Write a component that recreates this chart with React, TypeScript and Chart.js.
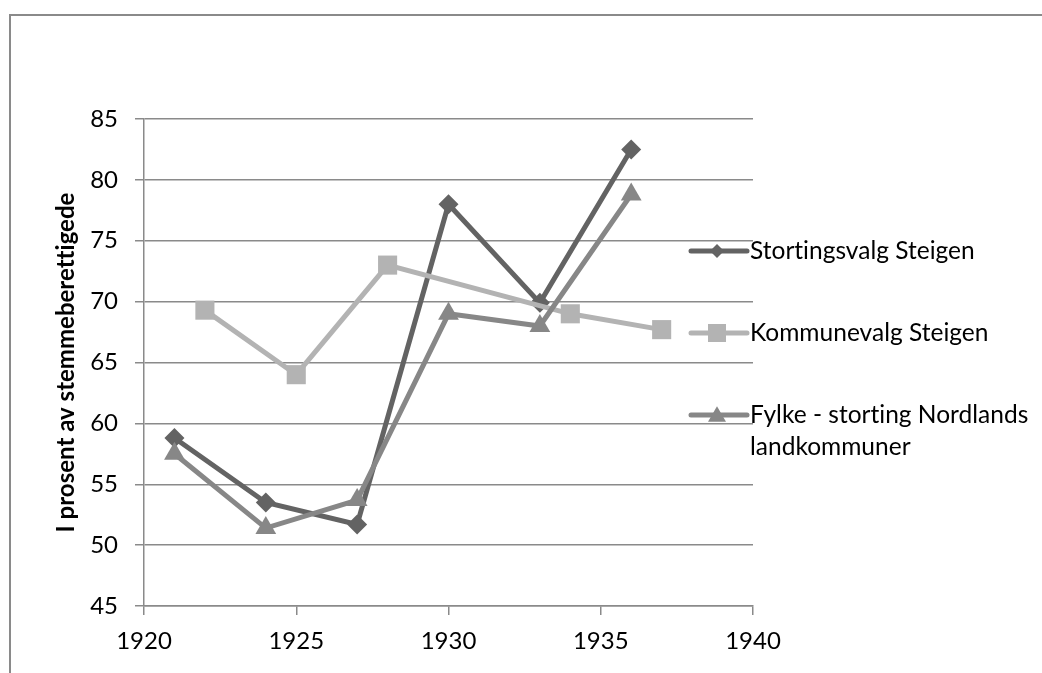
import React, { useEffect, useRef } from "react";
import { Chart, registerables } from "chart.js";

Chart.register(...registerables);

const seriesNames = [
  "Stortingsvalg Steigen",
  "Kommunevalg Steigen",
  "Fylke - storting Nordlands landkommuner",
];
const legendLines = [
  ["Stortingsvalg Steigen"],
  ["Kommunevalg Steigen"],
  ["Fylke - storting Nordlands", "landkommuner"],
];

const stortingYears = [1921, 1924, 1927, 1930, 1933, 1936];
const stortingValues = [58.8, 53.5, 51.7, 78.0, 69.9, 82.5];

const kommuneYears = [1922, 1925, 1928, 1934, 1937];
const kommuneValues = [69.3, 64.0, 73.0, 69.0, 67.7];

const fylkeYears = [1921, 1924, 1927, 1930, 1933, 1936];
const fylkeValues = [57.5, 51.4, 53.7, 69.0, 68.0, 78.8];

const xTicks = [1920, 1925, 1930, 1935, 1940];
const yTicks = [45, 50, 55, 60, 65, 70, 75, 80, 85];

const yTitle = "I prosent av stemmeberettigede";

const colors = ["#636363", "#b3b3b3", "#878787"];
const pointStyles = ["rectRot", "rect", "triangle"];
const pointRadii = [10, 13.5, 12];

const FONT = "Lato, 'Open Sans', sans-serif";

function toPoints(xs: number[], ys: number[]) {
  return xs.map((x, i) => ({ x, y: ys[i] }));
}

function drawMarker(ctx: CanvasRenderingContext2D, style: string, x: number, y: number, r: number) {
  ctx.beginPath();
  if (style === "rectRot") {
    ctx.moveTo(x, y - r);
    ctx.lineTo(x + r, y);
    ctx.lineTo(x, y + r);
    ctx.lineTo(x - r, y);
  } else if (style === "rect") {
    ctx.rect(x - r, y - r, 2 * r, 2 * r);
  } else {
    const h = r * 1.7;
    ctx.moveTo(x, y - h / 2 - 1);
    ctx.lineTo(x + r, y + h / 2 - 1);
    ctx.lineTo(x - r, y + h / 2 - 1);
  }
  ctx.closePath();
  ctx.fill();
}

const legendPlugin = {
  id: "customLegend",
  beforeDraw(chart: any) {
    const ctx = chart.ctx;
    try {
      (ctx as any).letterSpacing = "0.01px";
    } catch (e) {}
    ctx.save();
    ctx.fillStyle = "#ffffff";
    ctx.fillRect(0, 0, chart.width, chart.height);
    ctx.strokeStyle = "#8a8a8a";
    ctx.lineWidth = 2;
    ctx.beginPath();
    ctx.moveTo(10, chart.height);
    ctx.lineTo(10, 15);
    ctx.lineTo(chart.width, 15);
    ctx.stroke();
    ctx.restore();
  },
  afterDraw(chart: any) {
    const ctx = chart.ctx;
    const area = chart.chartArea;
    const itemYs = [251, 333, 415];
    const lineX0 = area.right - 62;
    const lineX1 = area.right - 6;
    const markerX = (lineX0 + lineX1) / 2 - 2;
    chart.data.datasets.forEach((ds: any, i: number) => {
      const y = itemYs[i];
      ctx.save();
      ctx.strokeStyle = ds.borderColor;
      ctx.lineWidth = 5;
      ctx.lineCap = "round";
      ctx.beginPath();
      ctx.moveTo(lineX0, y);
      ctx.lineTo(lineX1, y);
      ctx.stroke();
      ctx.restore();
      ctx.save();
      ctx.fillStyle = ds.pointBackgroundColor;
      const r = [7, 9, 9][i];
      drawMarker(ctx, ds.pointStyle, markerX, y, r);
      ctx.restore();
      ctx.save();
      ctx.fillStyle = "#000000";
      ctx.font = `24.5px ${FONT}`;
      ctx.textAlign = "left";
      ctx.textBaseline = "middle";
      legendLines[i].forEach((line, j) => {
        ctx.fillText(line, lineX1 + 3, y + j * 32);
      });
      ctx.restore();
    });
  },
};

export default function App() {
  const canvasRef = useRef<HTMLCanvasElement | null>(null);

  useEffect(() => {
    document.body.style.margin = "0";
    const canvas = canvasRef.current;
    if (!canvas) return;
    const allSeries = [
      toPoints(stortingYears, stortingValues),
      toPoints(kommuneYears, kommuneValues),
      toPoints(fylkeYears, fylkeValues),
    ];
    const chart = new Chart(canvas, {
      type: "scatter",
      data: {
        datasets: allSeries.map((data, i) => ({
          label: seriesNames[i],
          data,
          showLine: true,
          borderColor: colors[i],
          backgroundColor: colors[i],
          pointBackgroundColor: colors[i],
          pointBorderColor: colors[i],
          borderWidth: 5,
          pointStyle: pointStyles[i],
          pointRadius: pointRadii[i],
          pointBorderWidth: 0,
          order: 3 - i,
        })),
      },
      options: {
        responsive: false,
        animation: false,
        events: [],
        layout: { padding: { left: 10, top: 119, right: 289, bottom: 0 } },
        plugins: {
          legend: { display: false },
          tooltip: { enabled: false },
        },
        scales: {
          x: {
            type: "linear",
            min: 1920,
            max: 1940,
            afterFit: (scale: any) => {
              scale.height = 67;
            },
            afterBuildTicks: (scale: any) => {
              scale.ticks = xTicks.map((v) => ({ value: v }));
            },
            grid: {
              drawOnChartArea: false,
              drawTicks: true,
              tickLength: 9,
              color: "#8a8a8a",
              lineWidth: 1.5,
            },
            border: { display: true, color: "#8a8a8a", width: 1.5 },
            ticks: {
              color: "#000000",
              font: { family: FONT, size: 24 },
              padding: 12,
              maxRotation: 0,
              callback: (v: any) => String(v),
            },
          },
          y: {
            type: "linear",
            min: 45,
            max: 85,
            afterFit: (scale: any) => {
              scale.width = 134;
            },
            afterBuildTicks: (scale: any) => {
              scale.ticks = yTicks.map((v) => ({ value: v }));
            },
            grid: {
              drawOnChartArea: true,
              drawTicks: true,
              tickLength: 9,
              color: "#8a8a8a",
              lineWidth: 1.5,
            },
            border: { display: true, color: "#8a8a8a", width: 1.5 },
            title: {
              display: true,
              text: yTitle,
              color: "#000000",
              font: { family: FONT, size: 24, weight: "bold" },
              padding: { top: 42, bottom: 0 },
            },
            ticks: {
              color: "#000000",
              font: { family: FONT, size: 24 },
              padding: 17,
              callback: (v: any) => String(v),
            },
          },
        },
      },
      plugins: [legendPlugin],
    } as any);
    return () => chart.destroy();
  }, []);

  return (
    <div style={{ width: 1042, height: 673 }}>
      <canvas ref={canvasRef} width={1042} height={673} style={{ display: "block" }} />
    </div>
  );
}
